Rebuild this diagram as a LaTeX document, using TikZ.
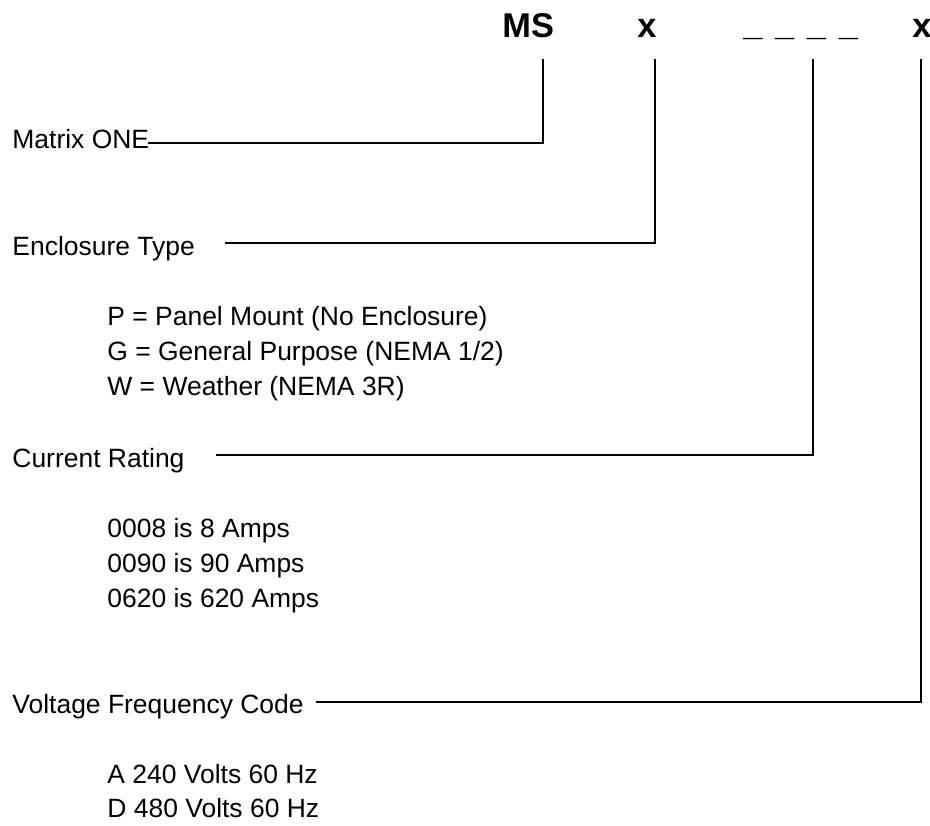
\documentclass[tikz,border=0pt]{standalone}
\usepackage{fontspec}
\setmainfont{Liberation Sans}
\usetikzlibrary{calc}
\tikzset{
  codeText/.style={
    font=\fontsize{16.5}{19}\selectfont\bfseries,
    inner sep=0pt,
    anchor=base west
  },
  labelText/.style={
    font=\fontsize{12.7}{15}\selectfont,
    inner sep=0pt,
    anchor=base west
  },
  optionText/.style={labelText},
  leader/.style={line width=1.2pt, black, line cap=rect}
}

\begin{document}
\begin{tikzpicture}[x=0.48pt,y=-0.48pt]
  \useasboundingbox (0,0) rectangle (930,825);
  \fill[white] (0,0) rectangle (930,825);
  % part number code
  \node[codeText] (msCode) at (502,37) {MS};
  \node[codeText] (encCode) at (637,37) {x};
  \node[codeText] (ratingCode) at (743,35)
    {\_\hspace{1.5pt} \_\hspace{1.5pt} \_\hspace{1.5pt} \_};
  \node[codeText] (voltCode) at (912,37) {x};
  \coordinate (msTop) at (543,60);
  \coordinate (encTop) at (655,60);
  \coordinate (ratingTop) at (813,60);
  \coordinate (voltTop) at (921,60);
  % field labels
  \node[labelText] (matrixLbl) at (12,148) {Matrix ONE};
  \node[labelText] (encLbl) at (12,255) {Enclosure Type};
  \node[labelText] (ratingLbl) at (12,467) {Current Rating};
  \node[labelText] (voltLbl) at (12,713) {Voltage Frequency Code};
  % options
  \foreach \txt [count=\i] in {P = Panel Mount (No Enclosure),
      G = General Purpose (NEMA 1/2), W = Weather (NEMA 3R)} {
    \node[optionText] (encOpt\i) at (107,325+35*\i-35) {\txt};
  }
  \foreach \txt [count=\i] in {0008 is 8 Amps, 0090 is 90 Amps,
      0620 is 620 Amps} {
    \node[optionText] (ratingOpt\i) at (107,537+35*\i-35) {\txt};
  }
  \foreach \txt [count=\i] in {A 240 Volts 60 Hz, D 480 Volts 60 Hz} {
    \node[optionText] (voltOpt\i) at (107,783+34*\i-34) {\txt};
  }
  % leaders
  \draw[leader] ($(matrixLbl.base east)+(0,-5)$) -| (msTop);
  \draw[leader] ($(encLbl.base east)+(31,-12)$) -| (encTop);
  \draw[leader] ($(ratingLbl.base east)+(32,-12)$) -| (ratingTop);
  \draw[leader] ($(voltLbl.base east)+(13,-11)$) -| (voltTop);
\end{tikzpicture}
\end{document}
